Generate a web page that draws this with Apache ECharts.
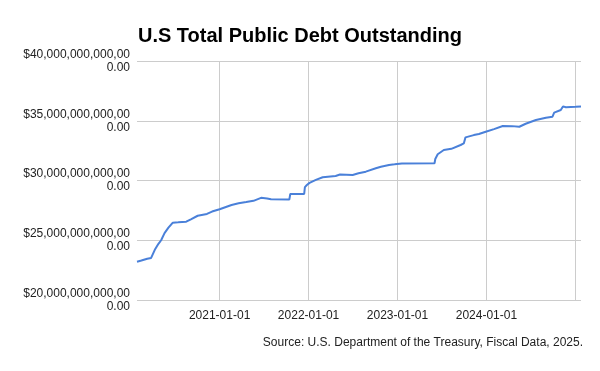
<!DOCTYPE html>
<html>
<head>
<meta charset="utf-8">
<script src="https://cdn.jsdelivr.net/npm/echarts@6/dist/echarts.min.js"></script>
<style>html,body{margin:0;padding:0;background:#fff}#chart{width:600px;height:371px}</style>
</head>
<body>
<div id="chart"></div>
<script>
// Dates and total public debt outstanding (trillions of US$)
const dates = [
  '2020-01-28','2020-02-15','2020-03-10','2020-03-26','2020-04-10','2020-04-25','2020-05-06','2020-05-20',
  '2020-06-05','2020-06-23','2020-07-15','2020-08-17','2020-09-05','2020-10-03','2020-11-10','2020-12-01',
  '2021-01-01','2021-02-19','2021-03-20','2021-04-20','2021-05-20','2021-06-20','2021-06-22','2021-06-28',
  '2021-07-15','2021-07-31','2021-08-02','2021-10-14','2021-10-18','2021-12-14','2021-12-17','2021-12-25',
  '2022-01-05','2022-01-31','2022-02-28','2022-04-22','2022-05-10','2022-05-12','2022-07-01','2022-07-25',
  '2022-08-24','2022-10-04','2022-10-25','2022-11-27','2022-12-20','2023-01-19','2023-06-02','2023-06-05',
  '2023-06-15','2023-07-10','2023-08-10','2023-09-17','2023-09-30','2023-10-07','2023-11-10','2023-12-01',
  '2023-12-29','2024-02-01','2024-03-08','2024-04-15','2024-05-15','2024-06-10','2024-07-22','2024-09-01',
  '2024-09-28','2024-10-05','2024-11-01','2024-11-10','2024-11-12','2024-11-22','2025-01-01','2025-01-23'
];
const debtTrillions = [
  23.20, 23.30, 23.45, 23.52, 24.20, 24.70, 25.00, 25.60,
  26.05, 26.47, 26.50, 26.55, 26.75, 27.05, 27.20, 27.40,
  27.59, 27.95, 28.10, 28.20, 28.30, 28.55, 28.40, 28.45,
  28.50, 28.43, 28.40, 28.40, 28.87, 28.87, 29.45, 29.62,
  29.80, 30.05, 30.27, 30.38, 30.50, 30.40, 30.46, 30.60,
  30.74, 31.02, 31.15, 31.30, 31.35, 31.42, 31.44, 31.80,
  32.20, 32.55, 32.65, 32.97, 33.10, 33.61, 33.80, 33.89,
  34.08, 34.30, 34.56, 34.55, 34.50, 34.75, 35.06, 35.25,
  35.34, 35.68, 35.90, 36.20, 36.05, 36.13, 36.17, 36.20
];
const yTicks = [20, 25, 30, 35, 40];
const xStart = '2020-01-28';
const xEnd = '2025-01-23';
const titleText = 'U.S Total Public Debt Outstanding';
const sourceText = 'Source: U.S. Department of the Treasury, Fiscal Data, 2025.';

const seriesData = dates.map((d, i) => [d, debtTrillions[i]]);
const DAY = 86400000;

function fmtMoney(v) {
  const s = '$' + (v * 1e12).toLocaleString('en-US', {minimumFractionDigits: 2, maximumFractionDigits: 2});
  return s.slice(0, 18) + '\n' + s.slice(18);
}

const chart = echarts.init(document.getElementById('chart'), null, {renderer: 'canvas'});
chart.setOption({
  animation: false,
  backgroundColor: '#fff',
  textStyle: {fontFamily: 'Liberation Sans, Arial, sans-serif'},
  title: {
    text: titleText,
    left: 'center',
    top: 21,
    textStyle: {fontFamily: 'Liberation Sans, Arial, sans-serif', fontSize: 20, fontWeight: 'bold', color: '#000'}
  },
  grid: {left: 137, right: 19, top: 61, bottom: 71, containLabel: false},
  xAxis: {
    type: 'time',
    min: xStart,
    max: xEnd,
    minInterval: 365 * DAY,
    maxInterval: 366 * DAY,
    axisLine: {show: false},
    axisTick: {show: false},
    splitLine: {show: true, showMinLine: false, showMaxLine: false, lineStyle: {color: '#cccccc', width: 1}},
    axisLabel: {
      fontSize: 12,
      color: '#222',
      margin: 10,
      showMinLabel: false,
      showMaxLabel: false,
      hideOverlap: false,
      formatter: function (v) {
        const d = new Date(v);
        const y = d.getFullYear();
        if (y >= 2025) return '';
        return y + '-01-01';
      }
    }
  },
  yAxis: {
    type: 'value',
    min: yTicks[0],
    max: yTicks[yTicks.length - 1],
    interval: 5,
    axisLine: {show: false},
    axisTick: {show: false},
    splitLine: {show: true, lineStyle: {color: '#cccccc', width: 1}},
    axisLabel: {
      fontSize: 12,
      lineHeight: 13,
      color: '#222',
      margin: 7,
      align: 'right',
      padding: [3, 0, 0, 0],
      formatter: fmtMoney
    }
  },
  series: [{
    type: 'line',
    data: seriesData,
    showSymbol: false,
    symbol: 'none',
    lineStyle: {color: '#4a80d9', width: 2},
    itemStyle: {color: '#4a80d9'}
  }],
  graphic: [{
    type: 'text',
    right: 17,
    top: 337,
    style: {
      text: sourceText,
      font: '12px "Liberation Sans", Arial, sans-serif',
      fill: '#222'
    }
  }]
});
</script>
</body>
</html>
